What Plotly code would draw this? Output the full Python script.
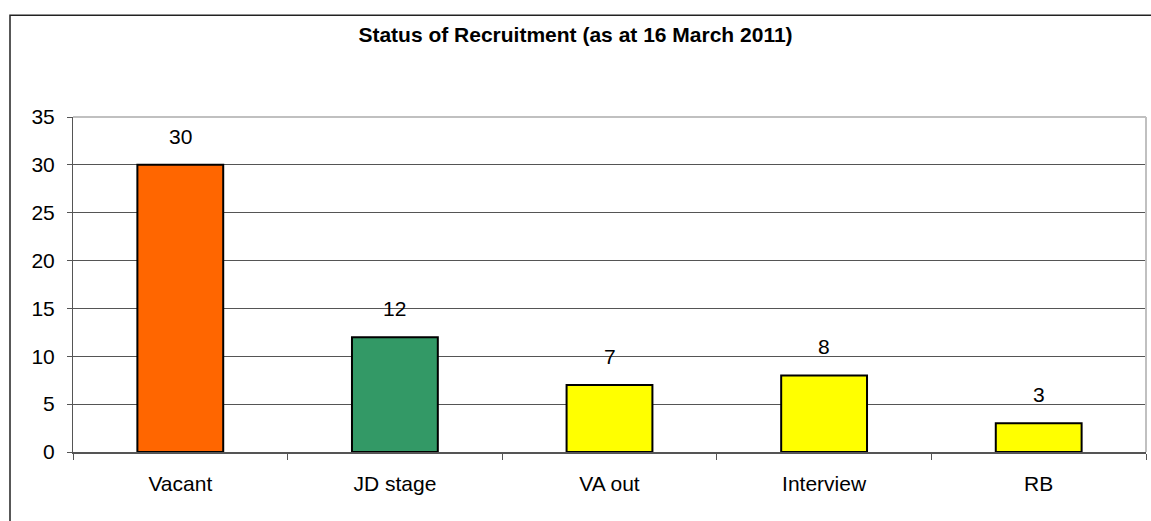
import plotly.graph_objects as go

categories = ["Vacant", "JD stage", "VA out", "Interview", "RB"]
values = [30, 12, 7, 8, 3]
colors = ["#FF6600", "#339966", "#FFFF00", "#FFFF00", "#FFFF00"]
y_ticks = [0, 5, 10, 15, 20, 25, 30, 35]
title_text = "Status of Recruitment (as at 16 March 2011)"

FONT = "Liberation Sans, Arial, sans-serif"

fig = go.Figure()
fig.add_trace(go.Bar(
    x=categories, y=values,
    marker=dict(color=colors, line=dict(color="black", width=2)),
    width=0.4, showlegend=False, hoverinfo="x+y",
))

for c, v in zip(categories, values):
    fig.add_annotation(x=c, y=v, text=str(v), showarrow=False,
                       yanchor="bottom", yshift=15,
                       font=dict(family=FONT, size=21, color="black"))

W, H = 1151, 521
L, R, T, B = 73, 5, 116.5, 68.7
pw, ph = W - L - R, H - T - B

def px_to_paper_x(px):
    return (px - L) / pw

def px_to_paper_y(py):
    return (H - B - py) / ph

# outer chart border
fig.add_shape(type="rect", xref="paper", yref="paper",
              x0=px_to_paper_x(10), x1=px_to_paper_x(1170),
              y0=px_to_paper_y(560), y1=px_to_paper_y(14.5),
              line=dict(color="#222222", width=1.5), layer="below")
# plot area top/right border
fig.add_shape(type="line", xref="paper", yref="paper", x0=0, x1=1, y0=1, y1=1,
              line=dict(color="#c0c0c0", width=2))
fig.add_shape(type="line", xref="paper", yref="paper", x0=1, x1=1, y0=0, y1=1,
              line=dict(color="#c0c0c0", width=2))

fig.update_layout(
    width=W, height=H,
    margin=dict(l=L, r=R, t=T, b=B, pad=0),
    paper_bgcolor="white", plot_bgcolor="white",
    font=dict(family=FONT, color="black"),
    title=dict(text="<b>" + title_text + "</b>", x=0.5, xref="container",
               xanchor="center", y=1 - 35 / H, yanchor="middle", yref="container",
               font=dict(family=FONT, size=21, color="black")),
    bargap=0.6,
)
fig.update_yaxes(range=[0, 35], tickvals=y_ticks, ticks="outside", ticklen=5,
                 tickcolor="#555555", showgrid=True, gridcolor="#555555", gridwidth=1,
                 showline=True, linecolor="#555555", linewidth=1, zeroline=False,
                 tickfont=dict(family=FONT, size=21, color="black"),
                 ticklabelstandoff=8, fixedrange=True)
fig.update_xaxes(type="category", ticks="outside", tickson="boundaries", ticklen=6,
                 tickcolor="#555555", showline=True, linecolor="#555555", linewidth=1.5,
                 showgrid=False, tickfont=dict(family=FONT, size=21, color="black"),
                 ticklabelstandoff=12, fixedrange=True)

fig.write_html("out.html", config={"displayModeBar": False},
               post_script="document.body.style.margin='0';document.body.style.overflow='hidden';")
